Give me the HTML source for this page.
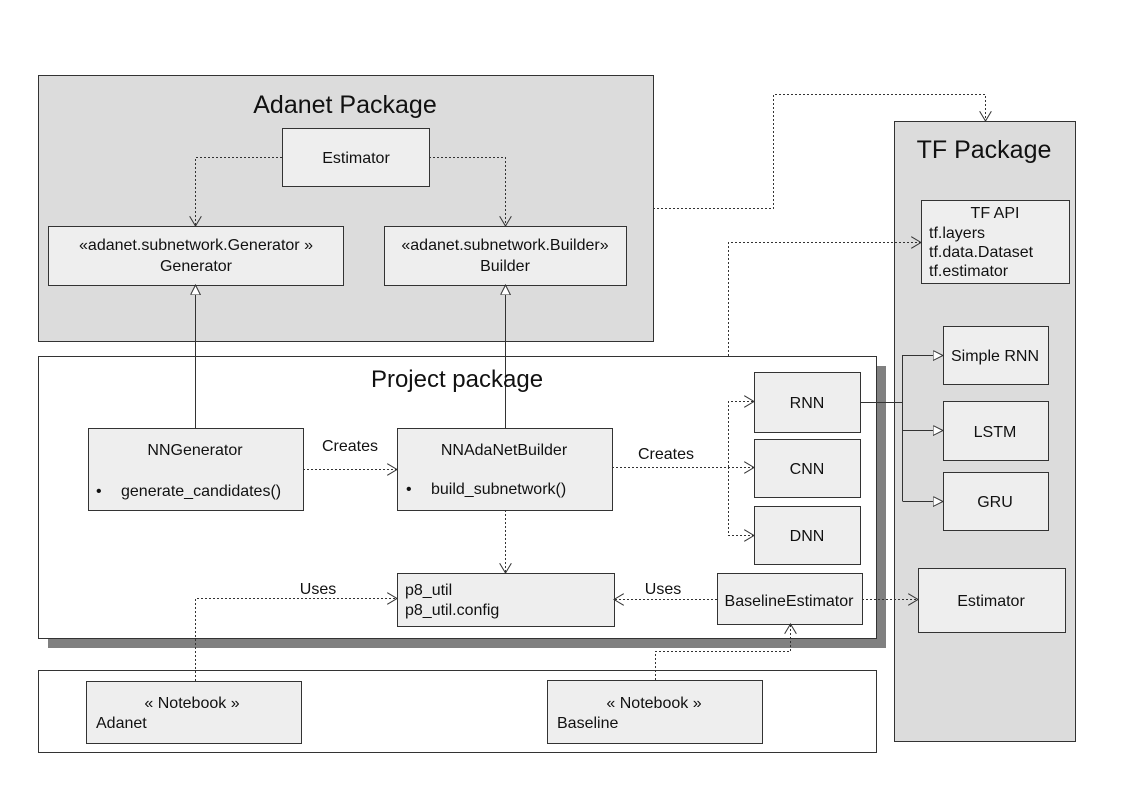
<!DOCTYPE html>
<html><head><meta charset="utf-8"><style>
html,body{margin:0;padding:0;background:#fff;}
svg{display:block;font-family:"Liberation Sans",sans-serif;}
</style></head><body>
<svg width="1123" height="794" viewBox="0 0 1123 794" xmlns="http://www.w3.org/2000/svg">
<defs>
<marker id="oa" markerWidth="12" markerHeight="12" refX="10" refY="6" orient="auto" markerUnits="userSpaceOnUse">
<path d="M0,0 L10,6 L0,12" fill="none" stroke="#333" stroke-width="1"/></marker>
<marker id="tri" markerWidth="12" markerHeight="12" refX="10" refY="5" orient="auto" markerUnits="userSpaceOnUse">
<path d="M0,0 L10,5 L0,10 Z" fill="#fff" stroke="#333" stroke-width="1"/></marker>
</defs>
<g stroke="#333" stroke-width="1">
<!-- Adanet package -->
<rect x="38.5" y="75.5" width="615" height="266" fill="#dcdcdc"/>
<!-- TF package -->
<rect x="894.5" y="121.5" width="181" height="620" fill="#dcdcdc"/>
<!-- Project package shadow -->
<rect x="48" y="366" width="838" height="282" fill="#808080" stroke="none"/>
<rect x="38.5" y="356.5" width="838" height="282" fill="#fff"/>
<rect x="38.5" y="670.5" width="838" height="82" fill="#fff"/>
<g fill="#eeeeee">
<rect x="282.5" y="128.5" width="147" height="58"/>
<rect x="48.5" y="226.5" width="295" height="59"/>
<rect x="384.5" y="226.5" width="242" height="59"/>
<rect x="88.5" y="428.5" width="215" height="82"/>
<rect x="397.5" y="428.5" width="215" height="82"/>
<rect x="754.5" y="372.5" width="106" height="60"/>
<rect x="754.5" y="439.5" width="106" height="58"/>
<rect x="754.5" y="506.5" width="106" height="58"/>
<rect x="397.5" y="573.5" width="217" height="53"/>
<rect x="717.5" y="573.5" width="145" height="51"/>
<rect x="86.5" y="681.5" width="215" height="62"/>
<rect x="547.5" y="680.5" width="215" height="63"/>
<rect x="921.5" y="200.5" width="148" height="83"/>
<rect x="943.5" y="326.5" width="105" height="58"/>
<rect x="943.5" y="401.5" width="105" height="59"/>
<rect x="943.5" y="472.5" width="105" height="58"/>
<rect x="918.5" y="568.5" width="147" height="64"/>
</g>
</g>
<g fill="none" stroke="#333" stroke-width="1">
<!-- dotted -->
<g stroke-dasharray="2,2">
<path d="M282,157.5 H195.5 V226" marker-end="url(#oa)"/>
<path d="M429,157.5 H505.5 V226" marker-end="url(#oa)"/>
<path d="M303,469.5 H397" marker-end="url(#oa)"/>
<path d="M612,467.5 H754" marker-end="url(#oa)"/>
<path d="M728.5,467 V401.5 H754" marker-end="url(#oa)"/>
<path d="M728.5,467 V535.5 H754" marker-end="url(#oa)"/>
<path d="M505.5,510 V573" marker-end="url(#oa)"/>
<path d="M717,599.5 H614" marker-end="url(#oa)"/>
<path d="M195.5,681 V598.5 H397" marker-end="url(#oa)"/>
<path d="M655.5,680 V651.5 H790.5 V624" marker-end="url(#oa)"/>
<path d="M862,599.5 H918" marker-end="url(#oa)"/>
<path d="M653,208.5 H773.5 V94.5 H985.5 V121" marker-end="url(#oa)"/>
<path d="M728.5,356 V242.5 H921" marker-end="url(#oa)"/>
</g>
<!-- solid -->
<path d="M195.5,428 V285" marker-end="url(#tri)"/>
<path d="M505.5,428 V285" marker-end="url(#tri)"/>
<path d="M860,402.5 H902.5"/>
<path d="M902.5,501 V355.5 H943" marker-end="url(#tri)"/>
<path d="M902.5,430.5 H943" marker-end="url(#tri)"/>
<path d="M902.5,501.5 H943" marker-end="url(#tri)"/>
</g>
<g fill="#111" font-size="16" text-anchor="middle">
<text x="345" y="113" font-size="25">Adanet Package</text>
<text x="984" y="158" font-size="25">TF Package</text>
<text x="457" y="387" font-size="24">Project package</text>
<text x="356" y="163">Estimator</text>
<text x="196" y="250">«adanet.subnetwork.Generator »</text>
<text x="196" y="271">Generator</text>
<text x="505" y="250">«adanet.subnetwork.Builder»</text>
<text x="505" y="271">Builder</text>
<text x="195" y="455">NNGenerator</text>
<text x="504" y="455">NNAdaNetBuilder</text>
<text x="350" y="451">Creates</text>
<text x="666" y="459">Creates</text>
<text x="807" y="408">RNN</text>
<text x="807" y="474">CNN</text>
<text x="807" y="541">DNN</text>
<text x="318" y="594">Uses</text>
<text x="663" y="594">Uses</text>
<text x="789" y="606">BaselineEstimator</text>
<text x="192" y="708">« Notebook »</text>
<text x="654" y="708">« Notebook »</text>
<text x="995" y="218">TF API</text>
<text x="995" y="361">Simple RNN</text>
<text x="995" y="437">LSTM</text>
<text x="995" y="507">GRU</text>
<text x="991" y="606">Estimator</text>
</g>
<g fill="#111" font-size="16">
<text x="96" y="496">•</text>
<text x="121" y="496">generate_candidates()</text>
<text x="406" y="494">•</text>
<text x="431" y="494">build_subnetwork()</text>
<text x="405" y="595">p8_util</text>
<text x="405" y="615">p8_util.config</text>
<text x="96" y="728">Adanet</text>
<text x="557" y="728">Baseline</text>
<text x="929" y="238">tf.layers</text>
<text x="929" y="257">tf.data.Dataset</text>
<text x="929" y="276">tf.estimator</text>
</g>
</svg>
</body></html>
